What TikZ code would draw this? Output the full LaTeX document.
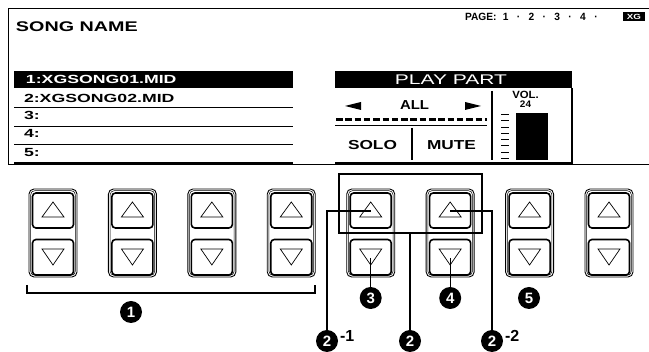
\documentclass[tikz,border=0pt]{standalone}
\usepackage{fontspec}
\usepackage{graphicx}
\newfontfamily\lcd{Liberation Sans}
\newcommand\st[3]{{\fontsize{#1}{#1}\selectfont\scalebox{#2}[1]{#3}}}
\tikzset{
  txt/.style={anchor=base west, inner sep=0pt, outer sep=0pt, font=\lcd\bfseries},
  ctxt/.style={anchor=base, inner sep=0pt, outer sep=0pt, font=\lcd\bfseries},
  num/.style={circle, fill=black, minimum size=22pt, inner sep=0pt, outer sep=0pt, text=white, font=\lcd\bfseries\fontsize{15}{15}\selectfont},
  lead/.style={line width=1.3pt},
  rule/.style={line width=0.9pt},
  outerframe/.style={line width=0.9pt, rounded corners=5pt},
  innerframe/.style={line width=0.5pt, rounded corners=4pt},
  keybox/.style={line width=1.6pt, rounded corners=3.5pt, fill=white},
  tri/.style={line width=0.7pt, line join=miter},
}
\begin{document}
\begin{tikzpicture}[x=1pt,y=-1pt]
\useasboundingbox (0,0) rectangle (649,352);
% screen frame
\draw[line width=1pt] (649,9) -- (8,9) -- (8,165) -- (649,165);
\node[txt] (title) at (16,32) {\st{14}{1.41}{SONG NAME}};
\node[txt] (page) at (465,20.5) {\st{10.5}{0.97}{PAGE:\hspace{2.8pt}\makebox[13.3pt]{1}\makebox[13.3pt]{·}\makebox[13.3pt]{2}\makebox[13.3pt]{·}\makebox[13.3pt]{3}\makebox[13.3pt]{·}\makebox[13.3pt]{4}\makebox[13.3pt]{·}}};
\node[fill=black, text=white, minimum width=22pt, minimum height=9pt, inner sep=0pt, font=\lcd\bfseries\fontsize{7.5}{7.5}\selectfont] (xg) at (634,16.5) {\scalebox{1.3}[1]{XG}};
% song list
\fill (14,71) rectangle (293,88);
\node[txt, text=white] (s1) at (26,84) {\st{11.8}{1.5}{1:XGSONG01.MID}};
\node[txt] (s2) at (24,102.7) {\st{11.8}{1.5}{2:XGSONG02.MID}};
\node[txt] (s3) at (24,120) {\st{11.8}{1.5}{3:}};
\node[txt] (s4) at (24,138) {\st{11.8}{1.5}{4:}};
\node[txt] (s5) at (24,156.5) {\st{11.8}{1.5}{5:}};
\foreach \y in {107,126,144} \draw[rule] (14,\y) -- (293,\y);
\draw[line width=1.3pt] (14,163) -- (293,163);
% play part
\fill (335,71) rectangle (572,88);
\node[ctxt, text=white, font=\lcd] (pp) at (451,85) {\st{14}{1.5}{PLAY PART}};
\draw[line width=1.2pt] (572,88) -- (572,163) -- (335,163);
\fill (345,106) -- (361,102) -- (361,110) -- cycle;
\fill (481,106) -- (465,102) -- (465,110) -- cycle;
\node[txt] (all) at (400,110) {\st{13}{1.15}{ALL}};
\draw[line width=3pt, dash pattern=on 6.5pt off 2.8pt] (336,119.5) -- (487,119.5);
\draw[rule] (335,125) -- (487,125);
\draw[line width=1.4pt] (412,128) -- (412,160);
\draw[line width=1.4pt] (492,91) -- (492,160);
\node[txt] (solo) at (348,150) {\st{13}{1.33}{SOLO}};
\node[txt] (mute) at (427,150) {\st{13}{1.33}{MUTE}};
\node[ctxt] (vol) at (525.5,98.5) {\st{10.5}{1.08}{VOL.}};
\node[ctxt] (v24) at (525.5,107.5) {\st{9.5}{1.05}{24}};
\fill (516,113) rectangle (548,160);
\foreach \k in {0,...,7} \draw[line width=1pt] (501,{114.5+6.3*\k}) -- (509,{114.5+6.3*\k});
% buttons
\foreach \i in {0,...,7}{
  \pgfmathsetmacro\cx{53+79.43*\i}
  \draw[outerframe] (\cx-24,189) rectangle (\cx+24,277);
  \draw[innerframe] (\cx-22.3,190.7) rectangle (\cx+22.3,275.3);
  \draw[keybox] (\cx-20.5,193) rectangle (\cx+20.5,228);
  \draw[keybox] (\cx-20.5,239.5) rectangle (\cx+20.5,275);
  \draw[tri] (\cx,202) -- (\cx+11,217) -- (\cx-11,217) -- cycle;
  \draw[tri] (\cx,265) -- (\cx+11,249) -- (\cx-11,249) -- cycle;
}
% bracket 1
\draw[line width=1.5pt] (27,285) -- (27,293) -- (315,293) -- (315,285);
\node[num] (n1) at (131,312) {1};
% group box
\node[draw, line width=1.5pt, minimum width=143pt, minimum height=59pt, inner sep=0pt, outer sep=0pt] (grp) at (410.5,203.5) {};
\coordinate (u5) at (370.7,211);
\coordinate (u6) at (450.2,211);
\coordinate (d5) at (370.7,258);
\coordinate (d6) at (450.2,258);
\node[num] (n3) at (370.7,298) {3};
\node[num] (n4) at (450.2,298) {4};
\node[num] (n5) at (529,298) {5};
\node[num] (n21) at (327,341) {2};
\node[num] (n2) at (410,341) {2};
\node[num] (n22) at (492,341) {2};
\draw[lead] (u5) -| (n21);
\draw[lead] (u6) -| (n22);
\draw[lead] (grp.south -| n2) -- (n2);
\draw[lead] (d5) -- (n3);
\draw[lead] (d6) -- (n4);
\node[txt] (m1) at (340,342) {\st{16}{1}{-1}};
\node[txt] (m2) at (505,342) {\st{16}{1}{-2}};
\end{tikzpicture}
\end{document}
